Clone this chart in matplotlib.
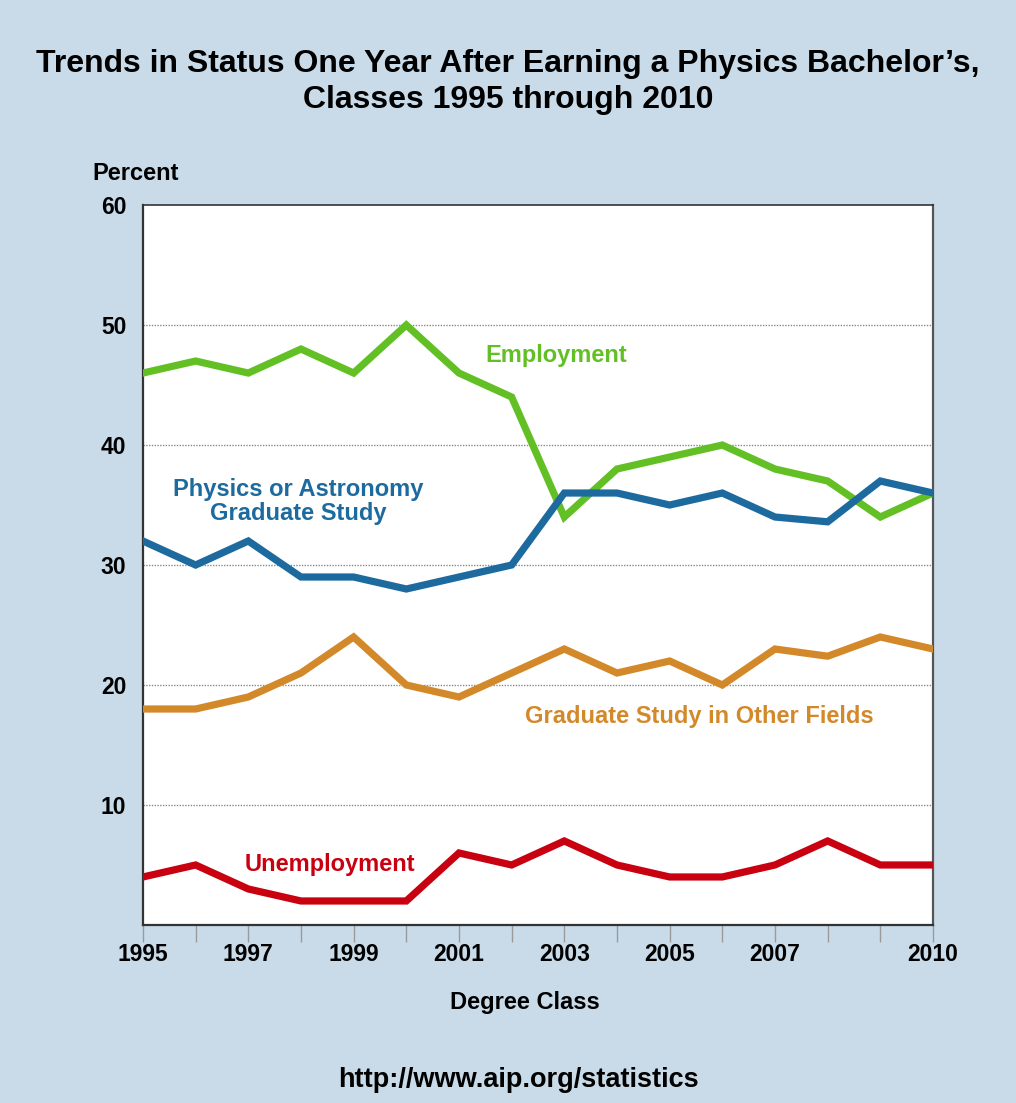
import matplotlib.pyplot as plt

# Data
years = list(range(1995, 2011))
employment = [46, 47, 46, 48, 46, 50, 46, 44, 34, 38, 39, 40, 38, 37, 34, 36]
physics_grad = [32, 30, 32, 29, 29, 28, 29, 30, 36, 36, 35, 36, 34, 33.6, 37, 36]
other_grad = [18, 18, 19, 21, 24, 20, 19, 21, 23, 21, 22, 20, 23, 22.4, 24, 23]
unemployment = [4, 5, 3, 2, 2, 2, 6, 5, 7, 5, 4, 4, 5, 7, 5, 5]

label_years = [1995, 1997, 1999, 2001, 2003, 2005, 2007, 2010]
y_ticks = [10, 20, 30, 40, 50, 60]

BG = "#c9dbe8"
GREEN = "#62c024"
BLUE = "#1d6a9f"
ORANGE = "#d3892a"
RED = "#c8000f"

plt.rcParams["font.family"] = ["Liberation Sans", "DejaVu Sans"]
plt.rcParams["font.weight"] = "bold"

fig = plt.figure(figsize=(10.16, 11.03), dpi=100, facecolor=BG)
ax = fig.add_axes([0.1407, 0.1614, 0.9183 - 0.1407, 0.8141 - 0.1614])
ax.set_facecolor("white")

lw = 5.2
ax.plot(years, employment, color=GREEN, lw=lw, solid_joinstyle="miter", zorder=3)
ax.plot(years, physics_grad, color=BLUE, lw=lw, solid_joinstyle="miter", zorder=4)
ax.plot(years, other_grad, color=ORANGE, lw=lw, solid_joinstyle="miter", zorder=3)
ax.plot(years, unemployment, color=RED, lw=lw, solid_joinstyle="miter", zorder=3)

ax.set_xlim(1995, 2010)
ax.set_ylim(0, 60)

for y in y_ticks[:-1]:
    ax.axhline(y, color="#8a8a8a", lw=1.0, ls=(0, (1, 1)), zorder=1)

ax.set_yticks(y_ticks)
ax.set_yticklabels([str(v) for v in y_ticks])
ax.tick_params(axis="y", length=0, pad=12, labelsize=16.5)

ax.set_xticks(years, minor=True)
ax.set_xticks(label_years)
ax.set_xticklabels([str(v) for v in label_years])
ax.tick_params(axis="x", which="both", direction="out", length=12, width=1,
               color="#9a9a9a", labelsize=16.5, pad=1)

for side in ["left", "bottom", "right", "top"]:
    ax.spines[side].set_color("#333333")
    ax.spines[side].set_linewidth(1.6)
ax.spines["top"].set_linewidth(1.2)
ax.spines["right"].set_color("#555555")

# Series labels
lab_fs = 17
ax.text(2002.84, 47.5, "Employment", color=GREEN, fontsize=lab_fs,
        ha="center", va="center")
ax.text(1997.95, 35.3, "Physics or Astronomy\nGraduate Study", color=BLUE,
        fontsize=lab_fs, ha="center", va="center", linespacing=1.1)
ax.text(2005.56, 17.4, "Graduate Study in Other Fields", color=ORANGE,
        fontsize=lab_fs, ha="center", va="center")
ax.text(1998.55, 5.0, "Unemployment", color=RED, fontsize=lab_fs,
        ha="center", va="center")

fig.text(0.5, 1 - 82 / 1103,
         "Trends in Status One Year After Earning a Physics Bachelor\u2019s,\n"
         "Classes 1995 through 2010",
         ha="center", va="center", fontsize=23, linespacing=1.3)
fig.text(136 / 1016, 1 - 174 / 1103, "Percent", ha="center", va="center",
         fontsize=17)
fig.text(525 / 1016, 1 - 1003 / 1103, "Degree Class", ha="center",
         va="center", fontsize=17)
fig.text(518 / 1016, 1 - 1080 / 1103, "http://www.aip.org/statistics",
         ha="center", va="center", fontsize=19.5)

fig.savefig("out.png", dpi=100, facecolor=BG)
